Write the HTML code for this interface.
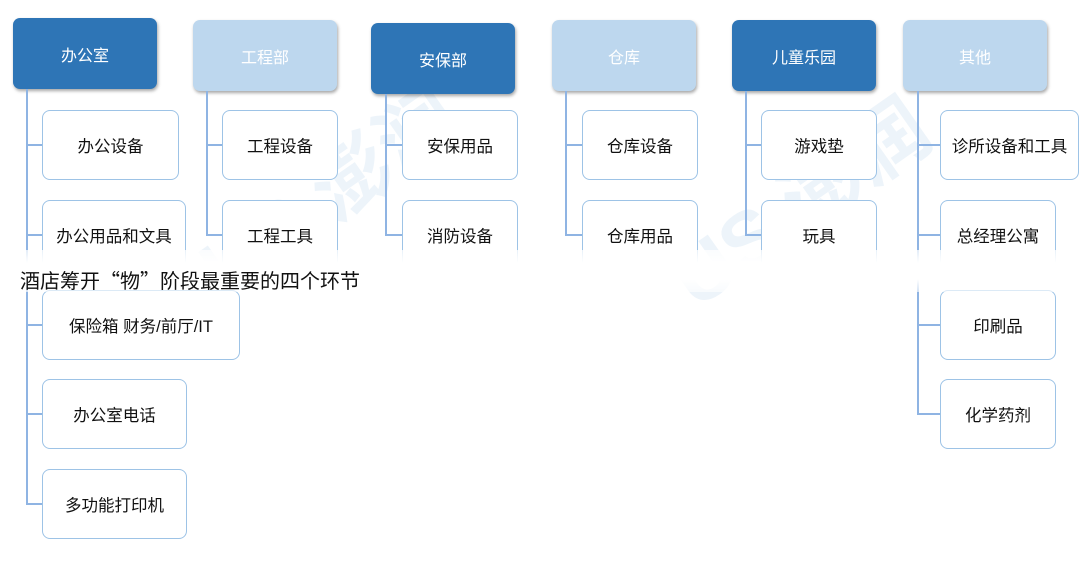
<!DOCTYPE html>
<html><head><meta charset="utf-8"><style>
body{margin:0;width:1080px;height:561px;background:#fff;position:relative;overflow:hidden;font-family:"Liberation Sans","Noto Sans CJK SC",sans-serif}
.h{position:absolute;width:144px;height:71px;border-radius:7px;color:#fff;font-size:16px;display:flex;align-items:center;justify-content:center;box-shadow:1px 2px 3px rgba(0,0,0,.35)}
.d{background:#2e75b6}.l{background:#bdd7ee}
.c{position:absolute;height:70px;border:1px solid #9dc3e6;border-radius:8px;background:#fff;font-size:16.5px;font-weight:400;color:#111;display:flex;align-items:center;justify-content:center;box-sizing:border-box}
.v{position:absolute;width:2px;background:#8fb4e3}
.t{position:absolute;height:2px;background:#8fb4e3}
.wm{position:absolute;font-size:80px;font-weight:bold;color:rgba(189,215,238,.28);transform:rotate(-35deg)}
</style></head><body>
<div class="wm" style="left:180px;top:130px">US 澎润</div>
<div class="wm" style="left:650px;top:140px">US 澎润</div>

<div class="h d" style="left:13px;top:18px">办公室</div>
<div class="h l" style="left:193px;top:20px">工程部</div>
<div class="h d" style="left:371px;top:23px">安保部</div>
<div class="h l" style="left:552px;top:20px">仓库</div>
<div class="h d" style="left:732px;top:20px">儿童乐园</div>
<div class="h l" style="left:903px;top:20px">其他</div>

<div class="v" style="left:26px;top:89px;height:416px"></div>
<div class="t" style="left:26px;top:144px;width:16px"></div>
<div class="t" style="left:26px;top:234px;width:16px"></div>
<div class="t" style="left:26px;top:324px;width:16px"></div>
<div class="t" style="left:26px;top:413px;width:16px"></div>
<div class="t" style="left:26px;top:503px;width:16px"></div>
<div class="c" style="left:42px;top:110px;width:137px">办公设备</div>
<div class="c" style="left:42px;top:200px;width:144px">办公用品和文具</div>
<div class="c" style="left:42px;top:290px;width:198px">保险箱 财务/前厅/IT</div>
<div class="c" style="left:42px;top:379px;width:145px">办公室电话</div>
<div class="c" style="left:42px;top:469px;width:145px">多功能打印机</div>

<div class="v" style="left:206px;top:91px;height:145px"></div>
<div class="t" style="left:206px;top:144px;width:16px"></div>
<div class="t" style="left:206px;top:234px;width:16px"></div>
<div class="c" style="left:222px;top:110px;width:116px">工程设备</div>
<div class="c" style="left:222px;top:200px;width:116px">工程工具</div>

<div class="v" style="left:385px;top:94px;height:142px"></div>
<div class="t" style="left:385px;top:144px;width:17px"></div>
<div class="t" style="left:385px;top:234px;width:17px"></div>
<div class="c" style="left:402px;top:110px;width:116px">安保用品</div>
<div class="c" style="left:402px;top:200px;width:116px">消防设备</div>

<div class="v" style="left:565px;top:91px;height:145px"></div>
<div class="t" style="left:565px;top:144px;width:17px"></div>
<div class="t" style="left:565px;top:234px;width:17px"></div>
<div class="c" style="left:582px;top:110px;width:116px">仓库设备</div>
<div class="c" style="left:582px;top:200px;width:116px">仓库用品</div>

<div class="v" style="left:745px;top:91px;height:145px"></div>
<div class="t" style="left:745px;top:144px;width:16px"></div>
<div class="t" style="left:745px;top:234px;width:16px"></div>
<div class="c" style="left:761px;top:110px;width:116px">游戏垫</div>
<div class="c" style="left:761px;top:200px;width:116px">玩具</div>

<div class="v" style="left:917px;top:91px;height:324px"></div>
<div class="t" style="left:917px;top:144px;width:23px"></div>
<div class="t" style="left:917px;top:234px;width:23px"></div>
<div class="t" style="left:917px;top:324px;width:23px"></div>
<div class="t" style="left:917px;top:413px;width:23px"></div>
<div class="c" style="left:940px;top:110px;width:139px">诊所设备和工具</div>
<div class="c" style="left:940px;top:200px;width:116px">总经理公寓</div>
<div class="c" style="left:940px;top:290px;width:116px">印刷品</div>
<div class="c" style="left:940px;top:379px;width:116px">化学药剂</div>

<div style="position:absolute;left:0;top:250px;width:1080px;height:42px;background:linear-gradient(rgba(255,255,255,.75),rgba(255,255,255,1) 30%,rgba(255,255,255,1) 70%,rgba(255,255,255,.6))"></div>
<div style="position:absolute;left:20px;top:268px;font-size:20px;color:#111;white-space:nowrap;font-family:'Noto Sans CJK SC',sans-serif;line-height:1.2">酒店筹开“物”阶段最重要的四个环节</div>
</body></html>
